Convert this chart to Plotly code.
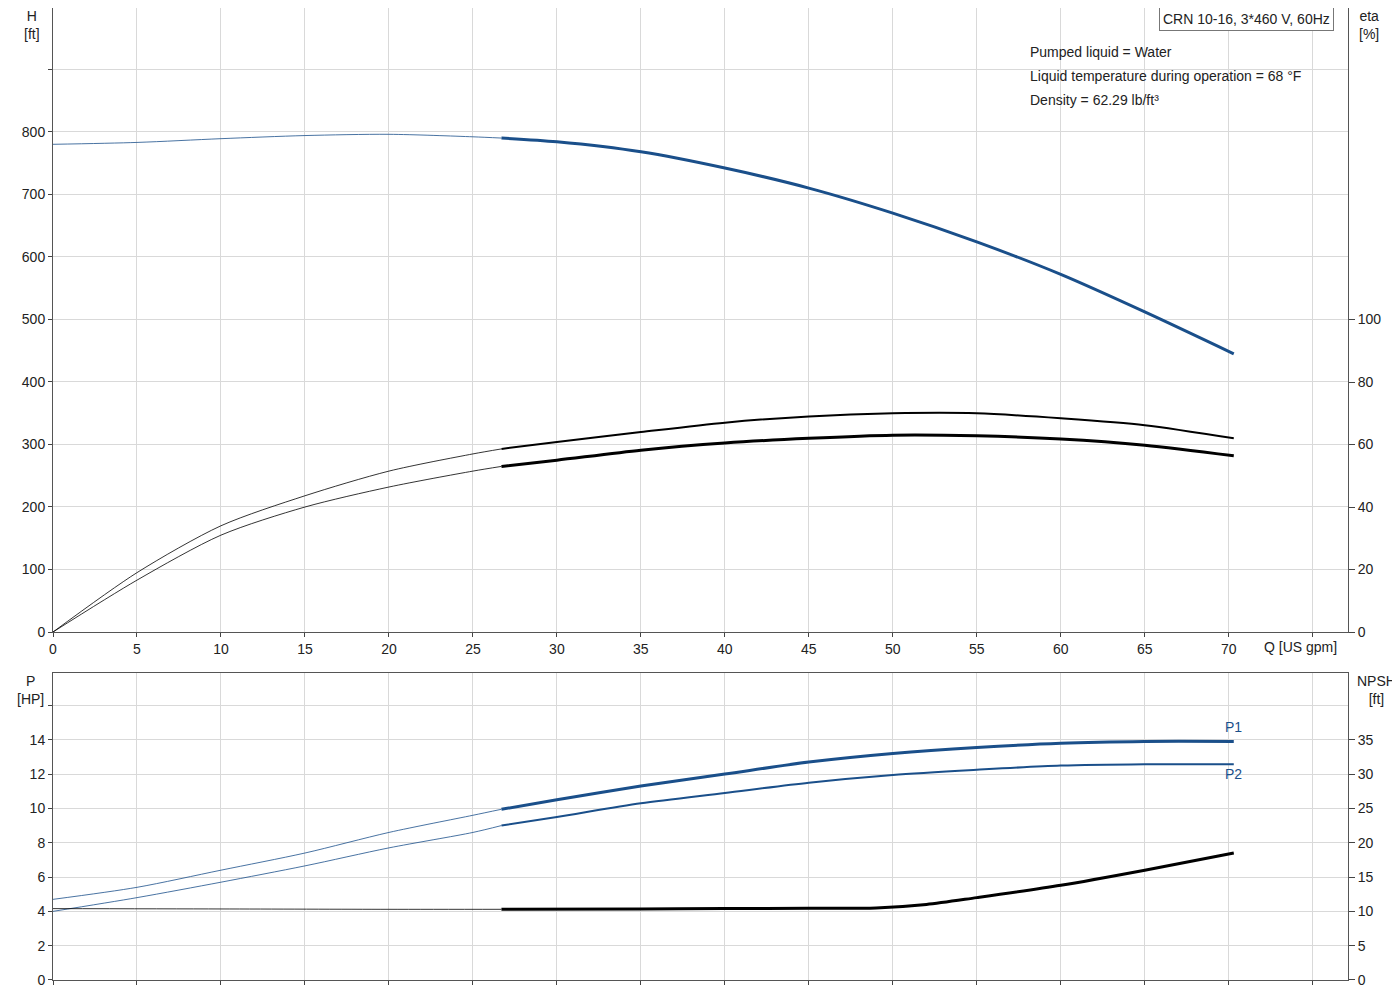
import plotly.graph_objects as go

q = [0, 5, 10, 15, 20, 25, 26.7, 30, 35, 40, 45, 50, 55, 60, 65, 70.3]
head = [780, 783, 789, 794, 796, 792, 790, 784, 768, 742, 710, 670, 624, 572, 512, 445]
eta1 = [0, 19, 34, 43.6, 51.5, 57, 58.6, 60.8, 64, 67, 69, 70, 70, 68.4, 66.2, 62]
eta2 = [0, 16.6, 31, 40, 46.4, 51.5, 53, 55, 58.2, 60.5, 62, 63, 62.8, 61.8, 59.8, 56.4]
p1 = [4.7, 5.4, 6.4, 7.4, 8.6, 9.6, 9.95, 10.5, 11.3, 12.0, 12.7, 13.2, 13.55, 13.8, 13.9, 13.9]
p2 = [4.0, 4.8, 5.7, 6.65, 7.7, 8.6, 9.0, 9.5, 10.3, 10.9, 11.5, 11.95, 12.25, 12.5, 12.58, 12.58]
q_npsh = [0, 10, 20, 26.7, 35, 40, 45, 49, 52, 55, 60, 65, 70.3]
npsh = [10.4, 10.35, 10.3, 10.3, 10.35, 10.4, 10.45, 10.5, 11.0, 12.0, 13.8, 16.0, 18.5]

BLUE = "#1a4f8a"
fig = go.Figure()

def add(x, y, color, xa, ya, thick):
    i = x.index(26.7)
    fig.add_trace(go.Scatter(x=x[:i+1], y=y[:i+1], mode="lines", line=dict(color=color, width=0.8, shape="spline", smoothing=0.8), xaxis=xa, yaxis=ya, showlegend=False))
    fig.add_trace(go.Scatter(x=x[i:], y=y[i:], mode="lines", line=dict(color=color, width=thick, shape="spline", smoothing=0.8), xaxis=xa, yaxis=ya, showlegend=False))

add(q, head, BLUE, "x", "y", 3)
add(q, eta1, "black", "x", "y2", 2)
add(q, eta2, "black", "x", "y2", 3)
add(q, p1, BLUE, "x2", "y3", 3)
add(q, p2, BLUE, "x2", "y3", 2)
add(q_npsh, npsh, "black", "x2", "y4", 3)

gridc = "#d9d9d9"
xt = list(range(0, 80, 5))
font = dict(family="Arial, Liberation Sans", size=14, color="#222")
common_x = dict(range=[0, 77.1], tickvals=xt, showgrid=True, gridcolor=gridc, showline=True, linecolor="#555", mirror=True, zeroline=False, ticks="outside", ticklen=4)
fig.update_layout(
    width=1400, height=1000, plot_bgcolor="white", paper_bgcolor="white",
    margin=dict(l=45, r=60, t=0, b=28, autoexpand=False), font=font,
    xaxis=dict(**common_x, domain=[0, 1], anchor="y", ticktext=[str(v) if v <= 70 else "" for v in xt]),
    yaxis=dict(domain=[0.358, 1], range=[0, 998], tickvals=list(range(0, 1000, 100)), ticktext=[str(v) if v <= 800 else "" for v in range(0, 1000, 100)], showgrid=True, gridcolor=gridc, zeroline=False, ticks="outside", ticklen=4, showline=True, linecolor="#555"),
    yaxis2=dict(overlaying="y", side="right", anchor="x", range=[0, 199.7], tickvals=[0, 20, 40, 60, 80, 100], showgrid=False, zeroline=False, ticks="outside", ticklen=6, showline=True, linecolor="#555"),
    xaxis2=dict(**common_x, domain=[0, 1], anchor="y3", showticklabels=False),
    yaxis3=dict(domain=[0, 0.316], range=[0, 17.9], tickvals=list(range(0, 18, 2)), ticktext=[str(v) if v <= 14 else "" for v in range(0, 18, 2)], showgrid=True, gridcolor=gridc, zeroline=False, ticks="outside", ticklen=4, showline=True, linecolor="#555"),
    yaxis4=dict(overlaying="y3", side="right", anchor="x2", range=[0, 44.75], tickvals=[0, 5, 10, 15, 20, 25, 30, 35], showgrid=False, zeroline=False, ticks="outside", ticklen=6, showline=True, linecolor="#555"),
)
ann = [
    dict(text="H<br>[ft]", x=24, y=983, xanchor="center", yanchor="middle"),
    dict(text="eta<br>[%]", x=1361, y=983, xanchor="center", yanchor="middle"),
    dict(text="P<br>[HP]", x=22, y=318, xanchor="center", yanchor="middle"),
    dict(text="NPSH<br>[ft]", x=1368, y=318, xanchor="center", yanchor="middle"),
    dict(text="Q [US gpm]", x=1292, y=361, xanchor="center", yanchor="middle"),
    dict(text="Pumped liquid = Water", x=1020, y=956, xanchor="left", yanchor="middle"),
    dict(text="Liquid temperature during operation = 68 °F", x=1020, y=932, xanchor="left", yanchor="middle"),
    dict(text="Density = 62.29 lb/ft³", x=1020, y=908, xanchor="left", yanchor="middle"),
    dict(text="CRN 10-16, 3*460 V, 60Hz", x=1238, y=989, xanchor="center", yanchor="middle", bordercolor="#777", borderwidth=1, borderpad=3, bgcolor="white"),
]
for a in ann:
    a.update(xref="paper", yref="paper", showarrow=False, font=font)
    a["x"] = (a["x"] - 45) / 1295
    a["y"] = (a["y"] - 28) / 972
    fig.add_annotation(**a)
fig.add_annotation(text="P1", x=70.3, y=p1[-1], xref="x2", yref="y3", showarrow=False, yshift=14, font=dict(family="Arial", size=14, color=BLUE))
fig.add_annotation(text="P2", x=70.3, y=p2[-1], xref="x2", yref="y3", showarrow=False, yshift=-10, font=dict(family="Arial", size=14, color=BLUE))
fig.write_html("out.html")
